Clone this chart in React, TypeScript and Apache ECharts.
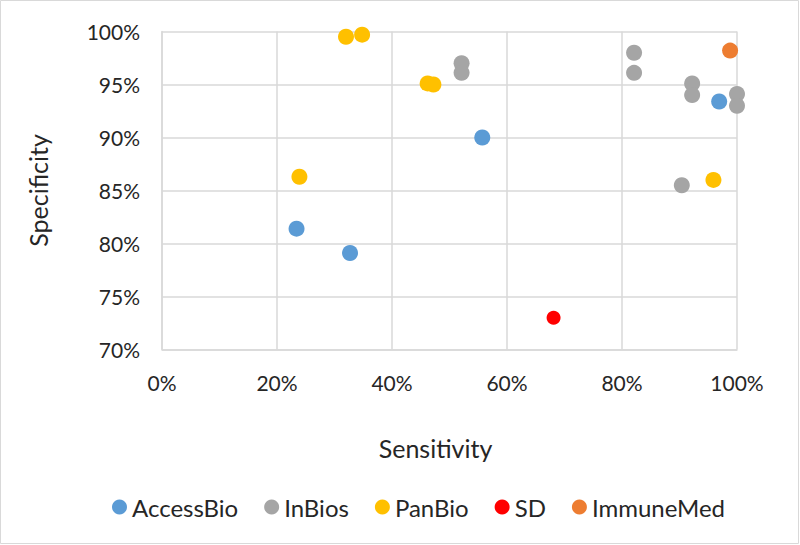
import React, { useEffect, useRef } from "react";
import * as echarts from "echarts";

const seriesNames = ["AccessBio", "InBios", "PanBio", "SD", "ImmuneMed"];
const seriesColors = ["#5B9BD5", "#A5A5A5", "#FFC000", "#FF0000", "#ED7D31"];

const accessBio: [number, number][] = [
  [0.557, 0.900],
  [0.969, 0.934],
  [0.234, 0.814],
  [0.327, 0.791],
];
const inBios: [number, number][] = [
  [0.521, 0.970],
  [0.521, 0.961],
  [0.821, 0.980],
  [0.821, 0.961],
  [0.922, 0.951],
  [0.922, 0.940],
  [1.0, 0.941],
  [1.0, 0.930],
  [0.904, 0.855],
];
const panBio: [number, number][] = [
  [0.320, 0.995],
  [0.348, 0.997],
  [0.462, 0.951],
  [0.472, 0.950],
  [0.239, 0.863],
  [0.959, 0.860],
];
const sd: [number, number][] = [[0.681, 0.730]];
const immuneMed: [number, number][] = [[0.988, 0.982]];

const xTicks = { min: 0, max: 1, interval: 0.2 };
const yTicks = { min: 0.7, max: 1.0, interval: 0.05 };

const FONT = "Lato, 'Open Sans', sans-serif";

export default function App() {
  const ref = useRef<HTMLDivElement>(null);
  useEffect(() => {
    document.body.style.margin = "0";
    const chart = echarts.init(ref.current!, null, { renderer: "svg" });
    const datas = [accessBio, inBios, panBio, sd, immuneMed];
    chart.setOption({
      animation: false,
      backgroundColor: "#ffffff",
      textStyle: { fontFamily: FONT },
      graphic: [
        {
          type: "rect",
          shape: { x: 0.5, y: 0.5, width: 798, height: 543 },
          style: { fill: "none", stroke: "#D9D9D9", lineWidth: 1 },
          silent: true,
        },
      ],
      grid: { left: 162, right: 63, top: 31.5, bottom: 195.5 },
      legend: {
        data: seriesNames,
        bottom: 21,
        left: 107,
        icon: "circle",
        itemWidth: 15,
        itemHeight: 15,
        itemGap: 26,
        textStyle: { fontSize: 24, color: "#262626", fontFamily: FONT },
      },
      xAxis: {
        type: "value",
        min: xTicks.min,
        max: xTicks.max,
        interval: xTicks.interval,
        name: "Sensitivity",
        nameLocation: "middle",
        nameGap: 86,
        nameTextStyle: { fontSize: 25, color: "#262626", padding: [0, 28, 0, 0] },
        axisLine: { show: true, lineStyle: { color: "#D9D9D9", width: 1.5 } },
        axisTick: { show: false },
        axisLabel: {
          fontSize: 21,
          color: "#262626",
          margin: 22,
          formatter: (v: number) => Math.round(v * 100) + "%",
        },
        splitLine: { show: true, lineStyle: { color: "#D9D9D9", width: 1.5 } },
      },
      yAxis: {
        type: "value",
        min: yTicks.min,
        max: yTicks.max,
        interval: yTicks.interval,
        name: "Specificity",
        nameLocation: "middle",
        nameGap: 112,
        nameRotate: 90,
        nameTextStyle: { fontSize: 25, color: "#262626" },
        axisLine: { show: true, lineStyle: { color: "#D9D9D9", width: 1.5 } },
        axisTick: { show: false },
        axisLabel: {
          fontSize: 21,
          color: "#262626",
          margin: 22,
          formatter: (v: number) => Math.round(v * 100) + "%",
        },
        splitLine: { show: true, lineStyle: { color: "#D9D9D9", width: 1.5 } },
      },
      series: seriesNames.map((n, i) => ({
        name: n,
        type: "scatter",
        data: datas[i],
        symbol: "circle",
        symbolSize: n === "SD" ? 14 : 16,
        itemStyle: { color: seriesColors[i], opacity: 1 },
        clip: false,
      })),
    });
    return () => chart.dispose();
  }, []);
  return (
    <div
      ref={ref}
      style={{ width: 800, height: 545, position: "absolute", left: 0, top: 0 }}
    />
  );
}
